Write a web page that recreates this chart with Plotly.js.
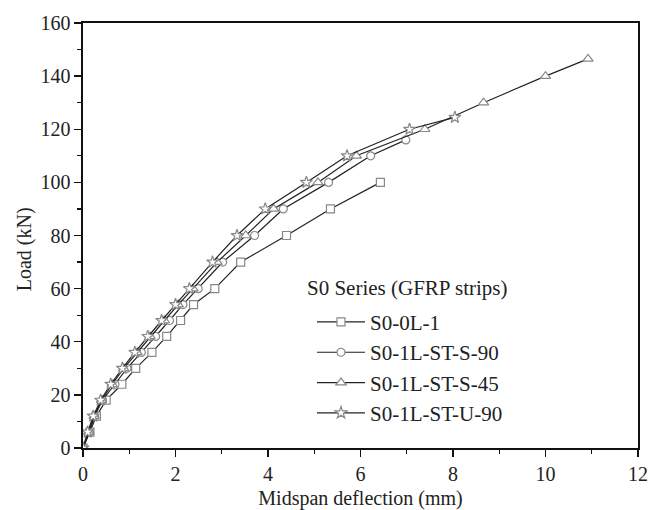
<!DOCTYPE html>
<html>
<head>
<meta charset="utf-8">
<script src="https://cdn.plot.ly/plotly-3.0.1.min.js"></script>
<style>html,body{margin:0;padding:0;background:#fff;}#chart{width:659px;height:510px;}</style>
</head>
<body>
<div id="chart"></div>
<script>
// S0-0L-1
const x_0L1 = [0, 0.15, 0.29, 0.50, 0.84, 1.14, 1.49, 1.81, 2.11, 2.39, 2.85, 3.41, 4.40, 5.35, 6.43];
const y_0L1 = [0, 6, 12, 18, 24, 30, 36, 42, 48, 54, 60, 70, 80, 90, 100];
// S0-1L-ST-S-90
const x_S90 = [0, 0.14, 0.25, 0.42, 0.69, 0.95, 1.26, 1.57, 1.87, 2.16, 2.49, 3.02, 3.71, 4.33, 5.31, 6.22, 6.98];
const y_S90 = [0, 6, 12, 18, 24, 30, 36, 42, 48, 54, 60, 70, 80, 90, 100, 110, 116];
// S0-1L-ST-S-45
const x_S45 = [0, 0.12, 0.24, 0.40, 0.63, 0.88, 1.17, 1.45, 1.76, 2.06, 2.38, 2.90, 3.52, 4.12, 5.08, 5.91, 7.39, 8.66, 10.0, 10.92];
const y_S45 = [0, 6, 12, 18, 24, 30, 36, 42, 48, 54, 60, 70, 80, 90, 100, 110, 120, 130, 140, 146.5];
// S0-1L-ST-U-90
const x_U90 = [0, 0.10, 0.22, 0.38, 0.60, 0.85, 1.12, 1.40, 1.70, 2.00, 2.30, 2.80, 3.33, 3.94, 4.83, 5.71, 7.06, 8.04];
const y_U90 = [0, 6, 12, 18, 24, 30, 36, 42, 48, 54, 60, 70, 80, 90, 100, 110, 120, 124.5];

const names = ['S0-0L-1', 'S0-1L-ST-S-90', 'S0-1L-ST-S-45', 'S0-1L-ST-U-90'];
const legendTitle = 'S0 Series (GFRP strips)';
const xTitle = 'Midspan deflection (mm)';
const yTitle = 'Load (kN)';
const xTicks = [0, 2, 4, 6, 8, 10, 12];
const yTicks = [0, 20, 40, 60, 80, 100, 120, 140, 160];

const FONT = 'Liberation Serif, Times New Roman, serif';
const series = [
  [x_0L1, y_0L1, 'square', 8],
  [x_S90, y_S90, 'circle', 8],
  [x_S45, y_S45, 'triangle-up', 9],
  [x_U90, y_U90, 'star', 9]
];
const traces = series.map((s, i) => ({
  x: s[0], y: s[1], name: names[i], type: 'scatter', mode: 'lines+markers',
  legendgroup: 'g' + i,
  line: {color: '#222', width: 1.2},
  marker: {symbol: s[2], size: s[3], color: '#fff', line: {color: '#888', width: 1.2}}
}));

const axisCommon = {
  showgrid: false, zeroline: false, showline: true, linecolor: '#111', linewidth: 1.6,
  mirror: true, ticks: 'outside', ticklen: 7, tickwidth: 1.3, tickcolor: '#111',
  tickfont: {family: FONT, size: 20, color: '#222'},
  minor: {ticks: 'outside', ticklen: 4, tickwidth: 1.2, tickcolor: '#111'}
};

const layout = {
  width: 659, height: 510,
  margin: {l: 83, r: 21, t: 23, b: 62},
  paper_bgcolor: '#fff', plot_bgcolor: '#fff',
  font: {family: FONT, color: '#222'},
  xaxis: Object.assign({}, axisCommon, {
    range: [0, 12], tickvals: xTicks, ticktext: xTicks.map(String),
    minor: Object.assign({}, axisCommon.minor, {dtick: 1, tick0: 0}),
    title: {text: xTitle, font: {family: FONT, size: 20, color: '#222'}, standoff: 8}
  }),
  yaxis: Object.assign({}, axisCommon, {
    range: [0, 160], tickvals: yTicks, ticktext: yTicks.map(String),
    minor: Object.assign({}, axisCommon.minor, {dtick: 10, tick0: 0})
  }),
  showlegend: true,
  legend: {
    x: 0.4126, y: 0.344, xanchor: 'left', yanchor: 'top',
    bgcolor: 'rgba(0,0,0,0)', borderwidth: 0,
    font: {family: FONT, size: 21, color: '#222'},
    itemwidth: 48,
    traceorder: 'grouped', tracegroupgap: 0
  },
  annotations: [{
    text: legendTitle, xref: 'paper', yref: 'paper', x: 0.4, y: 0.376,
    xanchor: 'left', yanchor: 'middle', showarrow: false,
    font: {family: FONT, size: 21, color: '#222'}
  }, {
    text: yTitle, xref: 'paper', yref: 'paper', x: -0.106, y: 0.468,
    xanchor: 'center', yanchor: 'middle', showarrow: false, textangle: -90,
    font: {family: FONT, size: 20, color: '#222'}
  }]
};

Plotly.newPlot('chart', traces, layout, {displayModeBar: false, staticPlot: true});
</script>
</body>
</html>
